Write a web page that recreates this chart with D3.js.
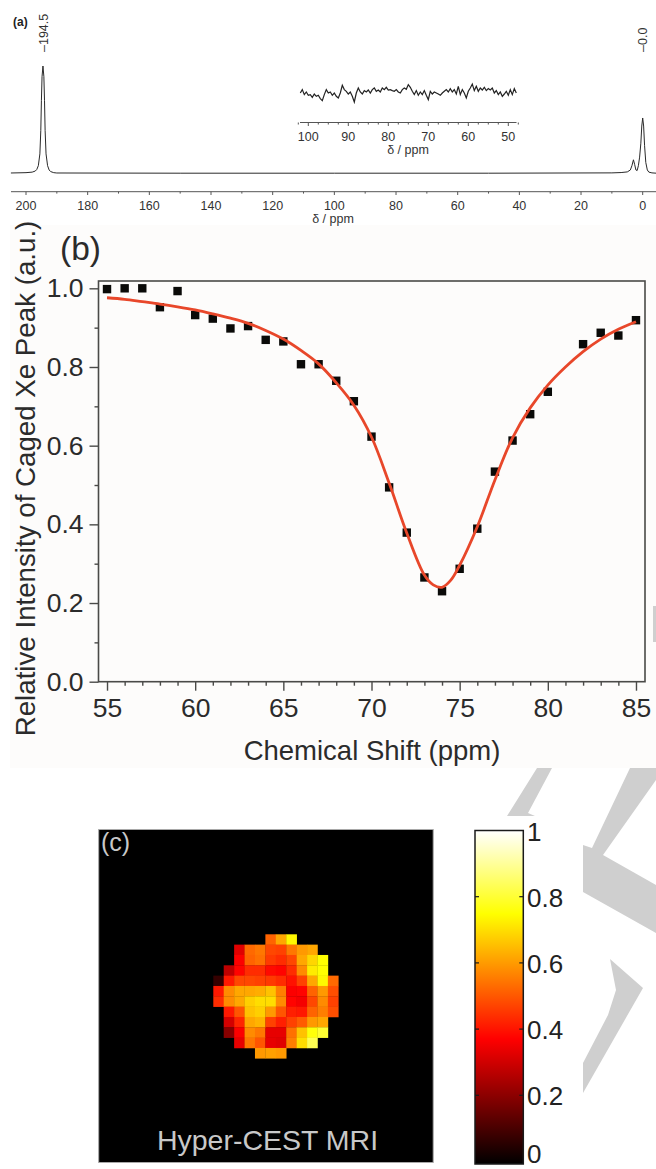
<!DOCTYPE html>
<html>
<head>
<meta charset="utf-8">
<script src="https://cdn.jsdelivr.net/npm/d3@7"></script>
<style>
  html, body { margin: 0; padding: 0; background: #fff; overflow: hidden; }
  svg { display: block; }
  text { font-family: "Liberation Sans", Arial, sans-serif; }
</style>
</head>
<body>
<div id="chart"></div>
<script>
// (a) spectrum
const specPpm = [204.9,200,198,197,196.5,196,195.5,195.2,195,194.8,194.5,194.2,194,193.8,193.5,193,192.5,192,191,190,150,100,50,10,7,5,4,3.5,3,2.6,2.2,1.8,1.4,1,0.6,0.3,0,-0.3,-0.6,-1,-1.5,-2,-3,-4.4];
const specInt = [0.2,0.5,1,2,3.5,7,18,40,68,90,100,90,68,40,18,7,3,1.5,0.5,0.2,0,0,0,0.3,0.6,1.2,3,7,12.5,8,3,2.5,7,15,28,44,51.5,44,26,10,3,1,0.3,0];
const specTicksMajor = [200,180,160,140,120,100,80,60,40,20,0];
const specTicksMinor = [190,170,150,130,110,90,70,50,30,10];

// (a) inset noise, one value every 0.5 ppm from 102 down to 48
const noiseStart = 102;
const noiseVals = [0.3,3.7,-1.3,1.3,-2,-1.3,-4,-0.7,-3,-2,-5.3,-7.3,-1.3,3.7,0.3,1.3,-2,0.3,-3,-4.7,0.3,8,3.7,2,-0.7,1.3,-3,-8.7,0.3,5.3,1.3,-0.7,2.7,1.3,3.3,0.3,3.7,5.3,2,3.3,1.3,5.3,3.7,6,3.3,3.7,2.7,2,3.7,1.3,0.3,3.7,5.3,4,
  8.7,6,2,-1.3,2.7,-2,1.3,-1.3,2.7,-2,-6.3,2,-0.7,1.3,0.3,-0.7,-2,0.3,2,3.7,1.3,4.7,1.3,3.7,-0.7,7,-1.3,3.7,0.3,-4.7,2,5.3,9.3,2.7,7,2,5.3,3.3,6,2.7,4.7,3.3,5.3,0.3,2.7,-1.3,1.3,-3,-0.7,2,-2,3.7,-1.3,4.7,0.3];
const insetTicksMajor = [100,90,80,70,60,50];
const insetTicksMinor = [102.5,97.5,95,92.5,87.5,85,82.5,77.5,75,72.5,67.5,65,62.5,57.5,55,52.5,47.5];

// (b) caged Xe peak
const shiftPts = [55,56,57,58,59,60,61,62,63,64,65,66,67,68,69,70,71,72,73,74,75,76,77,78,79,80,82,83,84,85];
const intensityPts = [0.998,1.0,1.0,0.952,0.993,0.932,0.923,0.898,0.904,0.869,0.865,0.807,0.807,0.765,0.713,0.623,0.494,0.379,0.265,0.23,0.287,0.389,0.534,0.613,0.68,0.737,0.858,0.887,0.88,0.919];
const fitShift = [55,56,57,58,59,60,61,62,63,64,65,66,67,68,69,70,71,72,73,73.5,74,74.5,75,76,77,78,79,80,81,82,83,84,85];
const fitVals = [0.976,0.972,0.966,0.96,0.953,0.945,0.935,0.924,0.911,0.893,0.871,0.842,0.808,0.76,0.703,0.622,0.505,0.378,0.271,0.246,0.24,0.258,0.296,0.394,0.513,0.62,0.696,0.754,0.8,0.839,0.871,0.896,0.915];
const xMajor = [55,60,65,70,75,80,85];
const yMajor = [0,0.2,0.4,0.6,0.8,1.0];

// (c) hyper-CEST map, 12 x 12, null = outside the sample
const heatGrid = [
  [null,null,null,null,null,0.52,0.62,0.74,null,null,null,null],
  [null,null,0.33,0.53,0.55,0.48,0.47,0.55,0.6,0.62,null,null],
  [null,null,0.37,0.52,0.54,0.46,0.44,0.48,0.62,0.69,0.75,null],
  [null,0.28,0.38,0.44,0.44,0.39,0.38,0.44,0.58,0.72,0.75,null],
  [0.08,0.41,0.48,0.48,0.47,0.46,0.44,0.4,0.47,0.62,0.74,0.53],
  [0.41,0.58,0.62,0.62,0.63,0.66,0.56,0.37,0.38,0.52,0.6,0.49],
  [0.44,0.58,0.62,0.68,0.7,0.7,0.58,0.38,0.36,0.48,0.58,0.47],
  [null,0.41,0.5,0.66,0.68,0.6,0.5,0.42,0.41,0.52,0.56,0.49],
  [null,0.31,0.43,0.62,0.64,0.47,0.42,0.47,0.51,0.6,0.62,null],
  [null,0.2,0.37,0.58,0.55,0.34,0.34,0.54,0.66,0.76,0.8,null],
  [null,null,0.34,0.55,0.5,0.34,0.33,0.56,0.7,0.83,null,null],
  [null,null,null,null,0.6,0.61,0.6,null,null,null,null,null]
];
const hotStops = [0,0.375,0.75,1];
const hotColors = ["#000000","#ff0000","#ffff00","#ffffff"];
const barTicks = [0,0.2,0.4,0.6,0.8,1];

const width = 656, height = 1169;
const svg = d3.select("#chart").append("svg")
  .attr("width", width).attr("height", height)
  .attr("viewBox", [0, 0, width, height]);

// grey watermark behind the panels
const watermark = [
  [[537,768],[552,768],[528,813],[535,816],[507,816]],
  [[630,768],[656,768],[656,780],[603,855],[656,885],[656,933],[583,892],[583,845],[592,848]],
  [[610,959],[643,988],[583,1093],[583,1063],[608,1015],[616,990]],
  [[653,606],[656,606],[656,642],[653,642]]
];

svg.append("rect").attr("x", 10).attr("y", 225).attr("width", 646).attr("height", 543).attr("fill", "#fdfcfb");
svg.append("g").selectAll("polygon").data(watermark).enter().append("polygon")
  .attr("points", d => d.join(" ")).attr("fill", "#cfcfcf");

// ---- panel a
const xSpec = d3.scaleLinear().domain([200, 0]).range([26, 642.7]);
const ySpec = d3.scaleLinear().domain([0, 100]).range([173.2, 66]);
const a = svg.append("g");

a.append("path")
  .datum(d3.zip(specPpm, specInt))
  .attr("fill", "none").attr("stroke", "#2a2a2a").attr("stroke-width", 1)
  .attr("d", d3.line().x(d => xSpec(d[0])).y(d => ySpec(d[1])));

a.append("line").attr("x1", 11).attr("x2", 656).attr("y1", 191.7).attr("y2", 191.7)
  .attr("stroke", "#555").attr("stroke-width", 1);
a.append("g").selectAll("line").data(specTicksMajor).enter().append("line")
  .attr("x1", d => xSpec(d)).attr("x2", d => xSpec(d)).attr("y1", 191.7).attr("y2", 195)
  .attr("stroke", "#555");
a.append("g").selectAll("line").data(specTicksMinor).enter().append("line")
  .attr("x1", d => xSpec(d)).attr("x2", d => xSpec(d)).attr("y1", 191.7).attr("y2", 193.6)
  .attr("stroke", "#555");
a.append("g").selectAll("text").data(specTicksMajor).enter().append("text")
  .attr("x", d => xSpec(d)).attr("y", 210).attr("text-anchor", "middle")
  .attr("font-size", 12.5).attr("fill", "#333").text(d => d);
a.append("text").attr("x", 333).attr("y", 223).attr("text-anchor", "middle")
  .attr("font-size", 12.5).attr("fill", "#333").text("δ / ppm");
a.append("text").attr("x", 13).attr("y", 26).attr("font-size", 12)
  .attr("font-weight", "bold").attr("fill", "#222").text("(a)");

[["–194.5", 43], ["–0.0", 642.7]].forEach(([label, px]) => {
  a.append("text").attr("transform", `translate(${px + 4.5},52) rotate(-90)`)
    .attr("font-size", 12.5).attr("fill", "#333").text(label);
});

// inset
const xInset = d3.scaleLinear().domain([100, 50]).range([308.3, 508.3]);
const yInset = d3.scaleLinear().domain([-10, 10]).range([103.3, 83.3]);
a.append("path")
  .datum(noiseVals)
  .attr("fill", "none").attr("stroke", "#222").attr("stroke-width", 1.2)
  .attr("d", d3.line().x((d, i) => xInset(noiseStart - i * 0.5)).y(d => yInset(d)));
a.append("line").attr("x1", 300).attr("x2", 516.5).attr("y1", 122.5).attr("y2", 122.5)
  .attr("stroke", "#555").attr("stroke-width", 1);
a.append("g").selectAll("line").data(insetTicksMajor).enter().append("line")
  .attr("x1", d => xInset(d)).attr("x2", d => xInset(d)).attr("y1", 122.5).attr("y2", 126)
  .attr("stroke", "#555");
a.append("g").selectAll("line").data(insetTicksMinor).enter().append("line")
  .attr("x1", d => xInset(d)).attr("x2", d => xInset(d)).attr("y1", 122.5).attr("y2", 124.5)
  .attr("stroke", "#555");
a.append("g").selectAll("text").data(insetTicksMajor).enter().append("text")
  .attr("x", d => xInset(d)).attr("y", 141).attr("text-anchor", "middle")
  .attr("font-size", 12.5).attr("fill", "#333").text(d => d);
a.append("text").attr("x", 408).attr("y", 154).attr("text-anchor", "middle")
  .attr("font-size", 12.5).attr("fill", "#333").text("δ / ppm");

// ---- panel b
const x = d3.scaleLinear().domain([54.5, 85.5]).range([98.2, 644.8]);
const y = d3.scaleLinear().domain([0, 1.0186]).range([681.7, 281]);
const b = svg.append("g");

b.append("rect").attr("x", 98.5).attr("y", 281).attr("width", 546.5).attr("height", 400.7)
  .attr("fill", "none").attr("stroke", "#4a4a48").attr("stroke-width", 1.6);

const xMinorAxis = d3.axisBottom(x).tickValues(d3.range(55, 86).filter(d => d % 5)).tickSize(4).tickFormat("");
const xMajorAxis = d3.axisBottom(x).tickValues(xMajor).tickSize(9).tickPadding(7).tickFormat(d3.format("d"));
const yMinorAxis = d3.axisLeft(y).tickValues([0.1,0.3,0.5,0.7,0.9]).tickSize(4).tickFormat("");
const yMajorAxis = d3.axisLeft(y).tickValues(yMajor).tickSize(9).tickPadding(6).tickFormat(d3.format(".1f"));

function styleAxis(g) {
  g.select(".domain").remove();
  g.selectAll("line").attr("stroke", "#4a4a48").attr("stroke-width", 1.4);
  g.selectAll("text").attr("font-size", 26.5).attr("fill", "#2b2b2b")
    .style("font-family", '"Liberation Sans", Arial, sans-serif');
}
b.append("g").attr("transform", "translate(0,681.7)").call(xMinorAxis).call(styleAxis);
b.append("g").attr("transform", "translate(0,681.7)").call(xMajorAxis).call(styleAxis);
b.append("g").attr("transform", "translate(98.5,0)").call(yMinorAxis).call(styleAxis);
b.append("g").attr("transform", "translate(98.5,0)").call(yMajorAxis).call(styleAxis);

b.append("g").selectAll("rect").data(d3.zip(shiftPts, intensityPts)).enter().append("rect")
  .attr("x", d => x(d[0]) - 4.2).attr("y", d => y(d[1]) - 4.2)
  .attr("width", 8.4).attr("height", 8.4).attr("fill", "#0a0a08");

b.append("path")
  .datum(d3.zip(fitShift, fitVals))
  .attr("fill", "none").attr("stroke", "#e8472a").attr("stroke-width", 2.8)
  .attr("d", d3.line().x(d => x(d[0])).y(d => y(d[1])).curve(d3.curveCatmullRom));

b.append("text").attr("x", 372).attr("y", 760).attr("text-anchor", "middle")
  .attr("font-size", 27.5).attr("fill", "#2b2b2b").text("Chemical Shift (ppm)");
b.append("text").attr("transform", "translate(35,478.5) rotate(-90)").attr("text-anchor", "middle")
  .attr("font-size", 27.7).attr("fill", "#2b2b2b").text("Relative Intensity of Caged Xe Peak (a.u.)");
b.append("text").attr("x", 60).attr("y", 260).attr("font-size", 33.5).attr("fill", "#2b2b2b").text("(b)");

// ---- panel c
const c = svg.append("g");
const hot = d3.scaleLinear().domain(hotStops).range(hotColors);
c.append("rect").attr("x", 98.7).attr("y", 829.5).attr("width", 334.5).attr("height", 333)
  .attr("fill", "#000").attr("stroke", "#a8a8a8").attr("stroke-width", 1);

const col = d3.scaleBand().domain(d3.range(12)).range([213.3, 338.3]);
const row = d3.scaleBand().domain(d3.range(12)).range([934.3, 1058.3]);
const cells = heatGrid.flatMap((r, i) => r.map((v, j) => ({ i, j, v }))).filter(d => d.v !== null);
c.append("g").selectAll("rect").data(cells).enter().append("rect")
  .attr("x", d => col(d.j)).attr("y", d => row(d.i))
  .attr("width", col.bandwidth() + 0.3).attr("height", row.bandwidth() + 0.3)
  .attr("fill", d => hot(d.v));

c.append("text").attr("x", 101).attr("y", 851).attr("font-size", 25).attr("fill", "#c8c8c8").text("(c)");
c.append("text").attr("x", 267.5).attr("y", 1150).attr("text-anchor", "middle")
  .attr("font-size", 28.5).attr("fill", "#c8c8c8").text("Hyper-CEST MRI");

// colour bar
const yBar = d3.scaleLinear().domain([0, 1]).range([1161.5, 830.5]);
const grad = svg.append("defs").append("linearGradient").attr("id", "hotbar")
  .attr("x1", 0).attr("x2", 0).attr("y1", 1).attr("y2", 0);
grad.selectAll("stop").data(hotStops).enter().append("stop")
  .attr("offset", d => d).attr("stop-color", d => hot(d));
c.append("rect").attr("x", 475).attr("y", yBar(1)).attr("width", 48.3).attr("height", yBar(0) - yBar(1) + 2.5)
  .attr("fill", "url(#hotbar)").attr("stroke", "#1a1a1a").attr("stroke-width", 1.5);
c.append("g").selectAll("line").data(barTicks.slice(1, 5).flatMap(d => [[d, 475, 479], [d, 519.3, 523.3]])).enter().append("line")
  .attr("x1", d => d[1]).attr("x2", d => d[2])
  .attr("y1", d => yBar(d[0])).attr("y2", d => yBar(d[0]))
  .attr("stroke", "#1a1a1a").attr("stroke-width", 1.2);
// the 0 sits on the picture's bottom edge, so it is nudged up to stay whole
c.append("g").selectAll("text").data(barTicks).enter().append("text")
  .attr("x", 527).attr("y", d => d === 0 ? 1163 : yBar(d) + 10).attr("font-size", 26).attr("fill", "#222").text(d => d);
</script>
</body>
</html>
